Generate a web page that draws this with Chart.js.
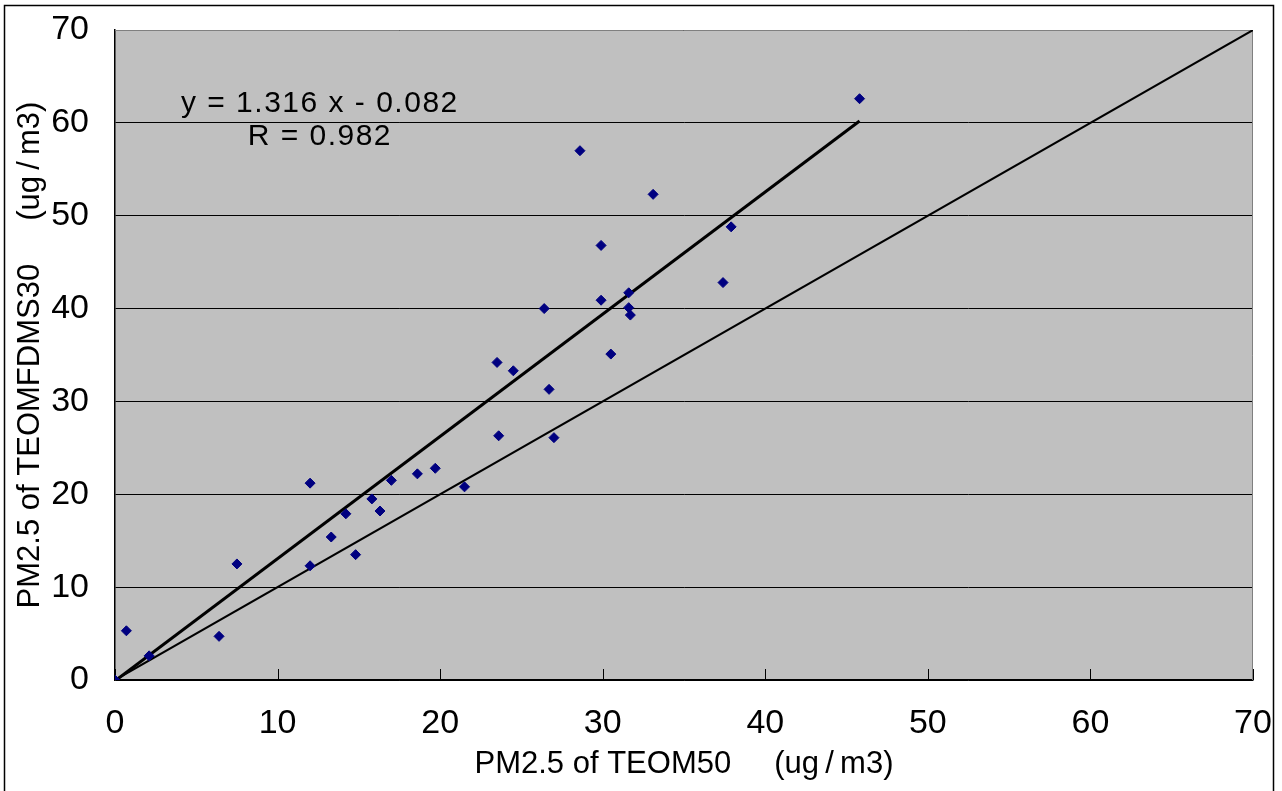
<!DOCTYPE html>
<html>
<head>
<meta charset="utf-8">
<script src="https://cdn.jsdelivr.net/npm/chart.js@4.4.1/dist/chart.umd.min.js"></script>
<style>
  html, body { margin: 0; padding: 0; background: #fff; }
  #wrap { position: relative; width: 1282px; height: 791px; }
</style>
</head>
<body>
<div id="wrap"><canvas id="chart"></canvas></div>
<script>
// TEOM50 (x) vs TEOMFDMS30 (y), ug/m3
const teom50 = [0, 0.7, 2.1, 6.4, 7.5, 12.0, 12.0, 13.3, 14.2, 14.8, 15.8, 16.3, 17.0, 18.6, 19.7, 21.5,
  23.6, 23.5, 24.5, 26.4, 26.7, 27.0, 28.6, 29.9, 29.9, 30.5, 31.6, 31.6, 31.7, 33.1, 37.4, 37.9, 45.8];
const teomFdms30 = [0, 5.3, 2.6, 4.7, 12.5, 21.2, 12.3, 15.4, 17.9, 13.5, 19.5, 18.2, 21.5, 22.2, 22.8, 20.8,
  26.3, 34.2, 33.3, 40.0, 31.3, 26.1, 57.0, 46.8, 40.9, 35.1, 41.7, 40.1, 39.3, 52.3, 42.8, 48.8, 62.6];

// regression line end points and the 1:1 line
const fitX = [0, 45.8];
const fitY = [-0.1, 60.2];
const oneToOneX = [0, 70];
const oneToOneY = [0, 70];

const xTicks = [0, 10, 20, 30, 40, 50, 60, 70];
const yTicks = [0, 10, 20, 30, 40, 50, 60, 70];
const equationLines = ['y = 1.316 x - 0.082', 'R = 0.982'];

const FONT = "'Liberation Sans', Arial, sans-serif";

const toPoints = (xs, ys) => xs.map((x, i) => ({ x: x, y: ys[i] }));

// plot background, frame, inside tick marks and the fit equation
const decorPlugin = {
  id: 'decor',
  beforeDraw(chart) {
    const { ctx, chartArea: a } = chart;
    ctx.save();
    ctx.fillStyle = '#ffffff';
    ctx.fillRect(0, 0, chart.width, chart.height);
    ctx.fillStyle = '#c0c0c0';
    ctx.fillRect(a.left, a.top, a.right - a.left, a.bottom - a.top);
    ctx.strokeStyle = '#000';
    ctx.lineWidth = 1.5;
    ctx.beginPath();
    ctx.moveTo(4.5, chart.height + 2);
    ctx.lineTo(4.5, 5.5);
    ctx.lineTo(1273.5, 5.5);
    ctx.lineTo(1273.5, chart.height + 2);
    ctx.stroke();
    ctx.restore();
  },
  beforeDatasetsDraw(chart) {
    const { ctx, chartArea: a, scales } = chart;
    ctx.save();
    ctx.strokeStyle = '#808080';
    ctx.lineWidth = 1;
    ctx.beginPath();
    ctx.moveTo(a.left, a.top + 0.5);
    ctx.lineTo(a.right - 0.5, a.top + 0.5);
    ctx.lineTo(a.right - 0.5, a.bottom);
    ctx.stroke();
    ctx.strokeStyle = '#000';
    ctx.beginPath();
    xTicks.forEach(v => {
      const px = Math.round(scales.x.getPixelForValue(v)) + 0.5;
      ctx.moveTo(px, a.bottom);
      ctx.lineTo(px, a.bottom - 11);
    });
    ctx.stroke();
    ctx.restore();
  },
  afterDatasetsDraw(chart) {
    const { ctx, scales } = chart;
    ctx.save();
    ctx.fillStyle = '#000';
    ctx.font = '30px ' + FONT;
    ctx.letterSpacing = '1.5px';
    ctx.textAlign = 'center';
    ctx.textBaseline = 'middle';
    ctx.fillText(equationLines[0], scales.x.getPixelForValue(12.6), scales.y.getPixelForValue(62.1));
    ctx.fillText(equationLines[1], scales.x.getPixelForValue(12.6), scales.y.getPixelForValue(58.5));
    ctx.restore();
  }
};

new Chart(document.getElementById('chart'), {
  type: 'scatter',
  data: {
    datasets: [
      {
        label: 'data',
        data: toPoints(teom50, teomFdms30),
        pointStyle: 'rectRot',
        pointRadius: 5,
        backgroundColor: '#000080',
        borderColor: '#000080',
        borderWidth: 1
      },
      {
        label: 'fit',
        type: 'line',
        data: toPoints(fitX, fitY),
        borderColor: '#000',
        borderWidth: 3,
        pointRadius: 0,
        fill: false
      },
      {
        label: '1:1',
        type: 'line',
        data: toPoints(oneToOneX, oneToOneY),
        borderColor: '#000',
        borderWidth: 2,
        pointRadius: 0,
        fill: false
      }
    ]
  },
  options: {
    responsive: true,
    maintainAspectRatio: false,
    animation: false,
    layout: { padding: { top: 30, right: 29, left: 0, bottom: 0 } },
    plugins: {
      legend: { display: false },
      tooltip: { enabled: false }
    },
    scales: {
      x: {
        type: 'linear',
        min: 0,
        max: 70,
        afterBuildTicks: scale => { scale.ticks = xTicks.map(v => ({ value: v })); },
        afterFit: scale => {
          scale.height = 111;
          scale.paddingLeft = 0;
          scale.paddingRight = 0;
        },
        grid: { display: false, drawTicks: false },
        border: { display: true, color: '#000', width: 1.5 },
        ticks: {
          color: '#000',
          padding: 27,
          font: { family: FONT, size: 34, lineHeight: 1 }
        },
        title: {
          display: true,
          text: 'PM2.5 of TEOM50     (ug\u2009/\u2009m3)',
          color: '#000',
          font: { family: FONT, size: 31, lineHeight: 1.2 },
          padding: { top: 0, bottom: 8 }
        }
      },
      y: {
        type: 'linear',
        min: 0,
        max: 70,
        afterBuildTicks: scale => { scale.ticks = yTicks.map(v => ({ value: v })); },
        afterFit: scale => {
          scale.width = 115;
          scale.paddingTop = 0;
          scale.paddingBottom = 0;
        },
        grid: { color: '#000', lineWidth: 1, drawTicks: false },
        border: { display: true, color: '#000', width: 1.5 },
        ticks: {
          color: '#000',
          padding: 26,
          font: { family: FONT, size: 34, lineHeight: 1 }
        },
        title: {
          display: true,
          text: 'PM2.5 of TEOMFDMS30     (ug\u2009/\u2009m3)',
          color: '#000',
          font: { family: FONT, size: 31, lineHeight: 1.2 },
          padding: { top: 12, bottom: 0 }
        }
      }
    }
  },
  plugins: [decorPlugin]
});
</script>
</body>
</html>
